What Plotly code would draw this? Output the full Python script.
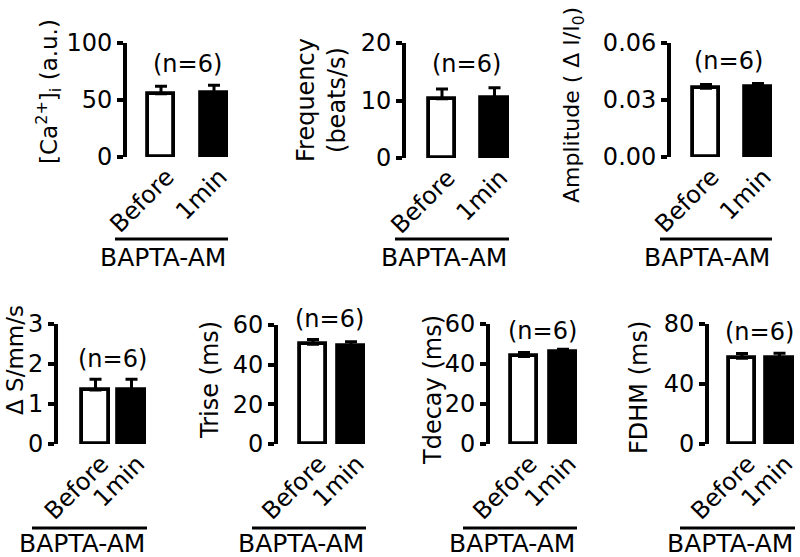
import plotly.graph_objects as go

W, H = 800, 557
FONT = "DejaVu Sans"

# ---------------- data ----------------
categories = ["Before", "1min"]

ca_mean = [55.5, 56.5]
ca_sem = [6.5, 6.5]
freq_mean = [10.3, 10.4]
freq_sem = [1.7, 1.8]
amp_mean = [0.0362, 0.0368]
amp_sem = [0.0020, 0.0019]
ds_mean = [1.35, 1.35]
ds_sem = [0.27, 0.27]
trise_mean = [50.3, 49.6]
trise_sem = [2.4, 1.9]
tdecay_mean = [43.8, 45.8]
tdecay_sem = [1.9, 1.6]
fdhm_mean = [57.2, 57.6]
fdhm_sem = [3.2, 2.9]

ca_ticks = [0, 50, 100]
freq_ticks = [0, 10, 20]
amp_ticks = [0.00, 0.03, 0.06]
ds_ticks = [0, 1, 2, 3]
trise_ticks = [0, 20, 40, 60]
tdecay_ticks = [0, 20, 40, 60]
fdhm_ticks = [0, 40, 80]

amp_ticktext = ["0.00", "0.03", "0.06"]

ylabels = [
    "[Ca<sup>2+</sup>]<sub>i</sub> (a.u.)",
    "Frequency<br>(beats/s)",
    "Amplitude ( Δ I/I<sub>0</sub>)",
    "Δ S/mm/s",
    "Trise (ms)",
    "Tdecay (ms)",
    "FDHM (ms)",
]
group_label = "BAPTA-AM"
n_label = "(n=6)"
bar_colors = ["white", "black"]

series = [
    (ca_mean, ca_sem, ca_ticks, None),
    (freq_mean, freq_sem, freq_ticks, None),
    (amp_mean, amp_sem, amp_ticks, amp_ticktext),
    (ds_mean, ds_sem, ds_ticks, None),
    (trise_mean, trise_sem, trise_ticks, None),
    (tdecay_mean, tdecay_sem, tdecay_ticks, None),
    (fdhm_mean, fdhm_sem, fdhm_ticks, None),
]

# ---------------- layout geometry (pixels) ----------------
geom = [
    dict(ax=127, c1=161, c2=214, r=233, y0=157, y1=43, tx=48, ty=92, tf=23, nx=187, ny=64, lx0=115, lx1=228, ly=239, gy=257),
    dict(ax=406, c1=442, c2=494.5, r=513, y0=158, y1=43, tx=321, ty=100, tf=24, nx=466, ny=64, lx0=395, lx1=509, ly=239, gy=257),
    dict(ax=671, c1=706, c2=758, r=777, y0=157, y1=43, tx=573, ty=105, tf=22, nx=728, ny=61, lx0=660, lx1=772, ly=239, gy=257),
    dict(ax=58, c1=95.5, c2=131.5, r=149, y0=444, y1=324, tx=15, ty=360, tf=23, nx=112, ny=359, lx0=32, lx1=147, ly=528, gy=543),
    dict(ax=278, c1=313, c2=351, r=370, y0=444, y1=325, tx=210, ty=380, tf=24, nx=329, ny=319, lx0=252, lx1=366, ly=528, gy=543),
    dict(ax=490, c1=524, c2=563, r=582, y0=444, y1=324, tx=433, ty=390, tf=24, nx=542, ny=331, lx0=463, lx1=577, ly=528, gy=543),
    dict(ax=709, c1=742, c2=779.5, r=798, y0=444, y1=324, tx=639, ty=388, tf=24, nx=759, ny=332, lx0=680, lx1=795, ly=528, gy=543),
]

LW = 3.8
BAR_PX = 30


def px(x):
    return x / W


def py(y):
    return 1 - y / H


fig = go.Figure()
annotations = []
shapes = []
layout = {}

for i, ((mean, sem, ticks, ticktext), g) in enumerate(zip(series, geom)):
    k = "" if i == 0 else str(i + 1)
    s = g["c2"] - g["c1"]
    fig.add_trace(go.Bar(
        x=categories, y=mean,
        xaxis="x" + k, yaxis="y" + k,
        width=(BAR_PX - LW) / s,
        marker=dict(color=bar_colors, line=dict(color="black", width=LW)),
        error_y=dict(type="data", array=sem, arrayminus=[0] * len(sem), symmetric=False,
                     color="black", thickness=3, width=6),
        showlegend=False, hoverinfo="skip", cliponaxis=False,
    ))
    layout["xaxis" + k] = dict(
        domain=[px(g["ax"]), px(g["r"])], anchor="y" + k,
        type="category", range=[(g["ax"] - g["c1"]) / s, (g["r"] - g["c1"]) / s],
        showline=False, ticks="", showgrid=False, zeroline=False,
        tickangle=-45, tickfont=dict(family=FONT, size=24, color="black"),
        ticklabelshift=6,
        automargin=False, fixedrange=True,
    )
    layout["yaxis" + k] = dict(
        domain=[py(g["y0"]), py(g["y1"])], anchor="x" + k,
        range=[ticks[0], ticks[-1]], tickvals=ticks,
        ticktext=ticktext if ticktext else [str(t) for t in ticks],
        showline=True, linecolor="black", linewidth=LW,
        ticks="outside", ticklen=6, tickwidth=LW, tickcolor="black",
        showgrid=False, zeroline=False,
        tickfont=dict(family=FONT, size=24, color="black"),
        automargin=False, fixedrange=True,
    )
    annotations.append(dict(
        text=ylabels[i], x=px(g["tx"]), y=py(g["ty"]), xref="paper", yref="paper",
        textangle=-90, showarrow=False, xanchor="center", yanchor="middle",
        font=dict(family=FONT, size=g["tf"], color="black"),
    ))
    annotations.append(dict(
        text=n_label, x=px(g["nx"]), y=py(g["ny"]), xref="paper", yref="paper",
        showarrow=False, xanchor="center", yanchor="middle",
        font=dict(family=FONT, size=24, color="black"),
    ))
    annotations.append(dict(
        text=group_label, x=px(g["lx1"]), y=py(g["gy"]), xref="paper", yref="paper",
        showarrow=False, xanchor="right", yanchor="middle",
        font=dict(family=FONT, size=25, color="black"),
    ))
    shapes.append(dict(
        type="line", xref="paper", yref="paper",
        x0=px(g["lx0"]), x1=px(g["lx1"]), y0=py(g["ly"]), y1=py(g["ly"]),
        line=dict(color="black", width=3),
    ))

fig.update_layout(
    width=W, height=H,
    margin=dict(l=0, r=0, t=0, b=0, pad=0, autoexpand=False),
    paper_bgcolor="white", plot_bgcolor="white",
    showlegend=False, bargap=0,
    annotations=annotations, shapes=shapes,
    **layout,
)

fig.write_html(
    "out.html",
    config={"displayModeBar": False},
    post_script="document.body.style.margin='0';document.body.style.padding='0';document.body.style.overflow='hidden';",
)
